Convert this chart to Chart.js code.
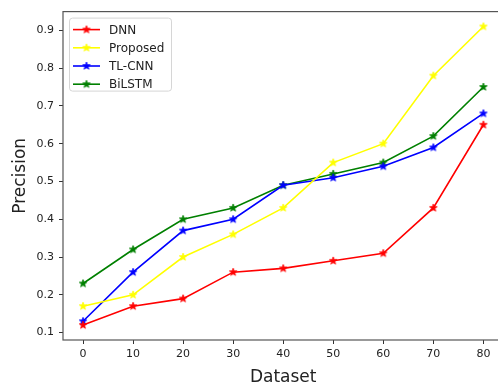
<!DOCTYPE html>
<html>
<head>
<meta charset="utf-8">
<script src="https://cdn.jsdelivr.net/npm/chart.js@4"></script>
<style>
  html, body { margin: 0; padding: 0; background: #fff; overflow: hidden; }
  #wrap { width: 510px; height: 385px; }
</style>
</head>
<body>
<div id="wrap"><canvas id="grafico"></canvas></div>
<script>
const datasetSizes = [0, 10, 20, 30, 40, 50, 60, 70, 80];
const dnn      = [0.12, 0.17, 0.19, 0.26, 0.27, 0.29, 0.31, 0.43, 0.65];
const proposed = [0.17, 0.20, 0.30, 0.36, 0.43, 0.55, 0.60, 0.78, 0.91];
const tlcnn    = [0.13, 0.26, 0.37, 0.40, 0.49, 0.51, 0.54, 0.59, 0.68];
const bilstm   = [0.23, 0.32, 0.40, 0.43, 0.49, 0.52, 0.55, 0.62, 0.75];
const xTicks = [0, 10, 20, 30, 40, 50, 60, 70, 80];
const yTicks = [0.1, 0.2, 0.3, 0.4, 0.5, 0.6, 0.7, 0.8, 0.9];

const FONT = "'DejaVu Sans', sans-serif";

// filled five point star, like matplotlib's '*' marker
function star(color, r) {
  const size = Math.ceil(r * 2 + 2);
  const c = document.createElement('canvas');
  c.width = size; c.height = size;
  const g = c.getContext('2d');
  const cx = size / 2, cy = size / 2;
  g.beginPath();
  for (let i = 0; i < 10; i++) {
    const rad = i % 2 === 0 ? r : r * 0.42;
    const a = -Math.PI / 2 + i * Math.PI / 5;
    const px = cx + rad * Math.cos(a), py = cy + rad * Math.sin(a);
    if (i === 0) g.moveTo(px, py); else g.lineTo(px, py);
  }
  g.closePath();
  g.fillStyle = color;
  g.fill();
  g.strokeStyle = color;
  g.lineWidth = 0.8;
  g.stroke();
  return c;
}

function serie(label, values, color) {
  return {
    label: label,
    data: datasetSizes.map((x, i) => ({ x: x, y: values[i] })),
    borderColor: color,
    backgroundColor: color,
    borderWidth: 1.6,
    pointStyle: star(color, 4),
    pointRadius: 5,
    tension: 0
  };
}

const moldura = {
  id: 'moldura',
  afterDraw(chart) {
    const { ctx, chartArea: a } = chart;
    ctx.save();
    ctx.strokeStyle = '#555';
    ctx.lineWidth = 1.2;
    ctx.strokeRect(a.left, a.top, a.right - a.left, a.bottom - a.top);

    // legend, upper left inside the axes
    const bx = a.left + 6, by = a.top + 6, bw = 102, bh = 73;
    ctx.beginPath();
    ctx.roundRect(bx + 0.5, by + 0.5, bw, bh, 3);
    ctx.fillStyle = 'rgba(255,255,255,0.85)';
    ctx.fill();
    ctx.strokeStyle = '#d6d6d6';
    ctx.lineWidth = 1;
    ctx.stroke();
    ctx.font = '12px ' + FONT;
    ctx.textBaseline = 'middle';
    chart.data.datasets.forEach((ds, i) => {
      const y = by + 12 + i * 18.2;
      ctx.beginPath();
      ctx.moveTo(bx + 4, y);
      ctx.lineTo(bx + 31, y);
      ctx.strokeStyle = ds.borderColor;
      ctx.lineWidth = 1.6;
      ctx.stroke();
      const img = ds.pointStyle;
      ctx.drawImage(img, bx + 17.5 - img.width / 2, y - img.height / 2);
      ctx.fillStyle = '#222';
      ctx.fillText(ds.label, bx + 40, y + 1);
    });
    ctx.restore();
  }
};

new Chart(document.getElementById('grafico').getContext('2d'), {
  type: 'line',
  data: {
    datasets: [
      serie('DNN', dnn, '#ff0000'),
      serie('Proposed', proposed, '#ffff00'),
      serie('TL-CNN', tlcnn, '#0000ff'),
      serie('BiLSTM', bilstm, '#008000')
    ]
  },
  options: {
    responsive: true,
    maintainAspectRatio: false,
    animation: false,
    layout: { padding: { top: 9, right: 2, left: 0, bottom: 0 } },
    plugins: { legend: { display: false }, tooltip: { enabled: false } },
    scales: {
      x: {
        type: 'linear',
        min: -4,
        max: 84,
        afterBuildTicks: s => { s.ticks = xTicks.map(v => ({ value: v })); },
        afterFit: s => { s.height = 45; },
        grid: { drawOnChartArea: false, tickLength: 4, tickColor: '#333', tickWidth: 1 },
        border: { display: false },
        ticks: { color: '#222', font: { family: FONT, size: 11 }, padding: 4, maxRotation: 0 },
        title: { display: true, text: 'Dataset', color: '#222', font: { family: FONT, size: 17 }, padding: { top: 0, bottom: -3 } }
      },
      y: {
        min: 0.0805,
        max: 0.9495,
        afterBuildTicks: s => { s.ticks = yTicks.map(v => ({ value: v })); },
        afterFit: s => { s.width = 63; },
        grid: { drawOnChartArea: false, tickLength: 4, tickColor: '#333', tickWidth: 1 },
        border: { display: false },
        ticks: { color: '#222', font: { family: FONT, size: 11 }, padding: 5, callback: v => v.toFixed(1) },
        title: { display: true, text: 'Precision', color: '#222', font: { family: FONT, size: 17 }, padding: { top: 10, bottom: 0 } }
      }
    }
  },
  plugins: [moldura]
});
</script>
</body>
</html>
